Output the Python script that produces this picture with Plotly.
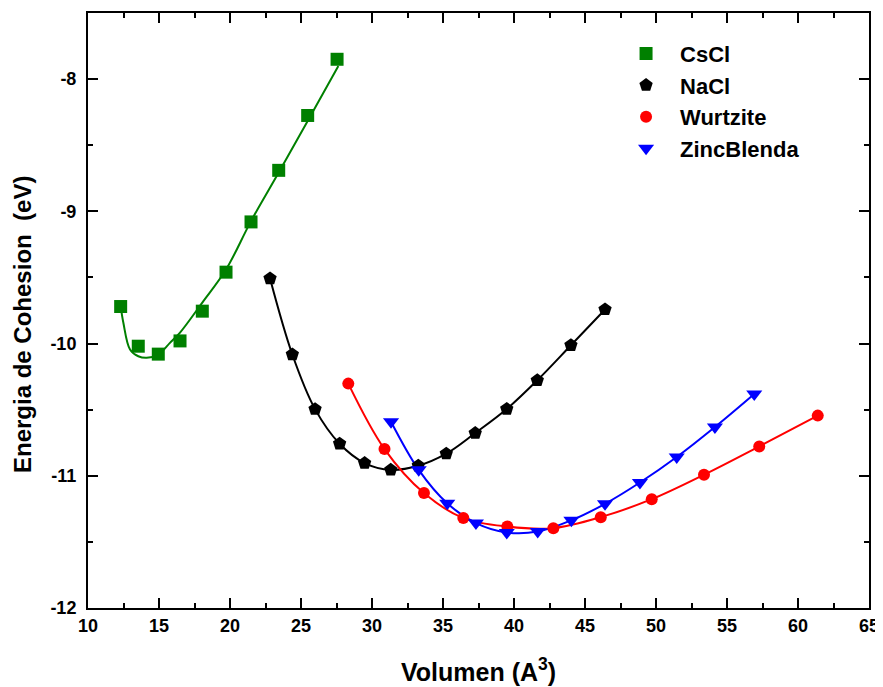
import plotly.graph_objects as go

# ---------------- data ----------------
cscl_v = [12.30, 13.54, 14.95, 16.48, 18.05, 19.72, 21.48, 23.43, 25.47, 27.54]
cscl_e = [-9.72, -10.02, -10.08, -9.98, -9.755, -9.46, -9.08, -8.69, -8.275, -7.85]
# fitted curve for CsCl
cscl_fit_v = [12.30, 12.49, 12.96, 13.54, 14.13, 14.95, 15.77, 16.48, 18.05, 19.72, 21.48, 23.43, 25.47, 27.63]
cscl_fit_e = [-9.717, -9.843, -10.045, -10.096, -10.108, -10.083, -9.995, -9.917, -9.69, -9.44, -9.074, -8.707, -8.316, -7.90]

nacl_v = [22.82, 24.39, 25.99, 27.72, 29.48, 31.32, 33.26, 35.23, 37.27, 39.49, 41.64, 44.01, 46.41]
nacl_e = [-9.508, -10.083, -10.496, -10.758, -10.904, -10.955, -10.924, -10.833, -10.677, -10.495, -10.278, -10.013, -9.742]

wurtz_v = [28.33, 30.88, 33.66, 36.43, 39.53, 42.77, 46.11, 49.70, 53.38, 57.27, 61.39]
wurtz_e = [-10.303, -10.798, -11.131, -11.32, -11.384, -11.396, -11.313, -11.177, -10.992, -10.778, -10.545]

zinc_v = [31.34, 33.29, 35.30, 37.32, 39.49, 41.67, 44.04, 46.41, 48.87, 51.46, 54.15, 56.92]
zinc_e = [-10.591, -10.955, -11.208, -11.358, -11.429, -11.422, -11.337, -11.212, -11.051, -10.858, -10.631, -10.381]

x_tickvals = [10, 15, 20, 25, 30, 35, 40, 45, 50, 55, 60, 65]
x_ticktext = ["10", "15", "20", "25", "30", "35", "40", "45", "50", "55", "60", "65"]
y_tickvals = [-12, -11, -10, -9, -8]
y_ticktext = ["-12", "-11", "-10", "-9", "-8"]

series_names = ["CsCl", "NaCl", "Wurtzite", "ZincBlenda"]
x_title = "<b>Volumen (A<sup>3</sup>)</b>"
y_title = "<b>Energia de Cohesion  (eV)</b>"

# ---------------- styles ----------------
GREEN = "#008000"
BLACK = "#000000"
RED = "#ff0000"
BLUE = "#0000ff"
FONT = "Liberation Sans, Arial, sans-serif"

fig = go.Figure()

# lines (not in legend)
fig.add_trace(go.Scatter(x=cscl_fit_v, y=cscl_fit_e, mode="lines", line=dict(color=GREEN, width=2, shape="spline"),
                         showlegend=False, hoverinfo="skip"))
fig.add_trace(go.Scatter(x=nacl_v, y=nacl_e, mode="lines", line=dict(color=BLACK, width=2, shape="spline"),
                         showlegend=False, hoverinfo="skip"))
fig.add_trace(go.Scatter(x=wurtz_v, y=wurtz_e, mode="lines", line=dict(color=RED, width=2, shape="spline"),
                         showlegend=False, hoverinfo="skip"))
fig.add_trace(go.Scatter(x=zinc_v, y=zinc_e, mode="lines", line=dict(color=BLUE, width=2, shape="spline"),
                         showlegend=False, hoverinfo="skip"))

# markers (in legend)
fig.add_trace(go.Scatter(x=cscl_v, y=cscl_e, mode="markers", name=series_names[0], legendgroup="a",
                         marker=dict(symbol="square", size=13, color=GREEN)))
fig.add_trace(go.Scatter(x=nacl_v, y=nacl_e, mode="markers", name=series_names[1], legendgroup="b",
                         marker=dict(symbol="pentagon", size=14, color=BLACK)))
fig.add_trace(go.Scatter(x=wurtz_v, y=wurtz_e, mode="markers", name=series_names[2], legendgroup="c",
                         marker=dict(symbol="circle", size=12, color=RED)))
fig.add_trace(go.Scatter(x=zinc_v, y=zinc_e, mode="markers", name=series_names[3], legendgroup="d",
                         marker=dict(symbol="triangle-down", size=14, color=BLUE)))

axis_common = dict(
    showline=True, linecolor="black", linewidth=2, mirror="ticks",
    ticks="inside", ticklen=10, tickwidth=2, tickcolor="black",
    showgrid=False, zeroline=False, automargin=False,
    tickfont=dict(family=FONT, size=18, color="black", weight="bold"),
)

fig.update_xaxes(range=[10, 65], tickvals=x_tickvals, ticktext=x_ticktext,
                 minor=dict(ticks="inside", ticklen=5, tickwidth=2, tickcolor="black", dtick=2.5, tick0=10),
                 **axis_common)
fig.update_yaxes(range=[-12, -7.5], tickvals=y_tickvals, ticktext=y_ticktext, ticklabelstandoff=6,
                 minor=dict(ticks="inside", ticklen=5, tickwidth=2, tickcolor="black", dtick=0.5, tick0=-12),
                 **axis_common)

# the page body has an 8px margin, so the figure is made 8px smaller and
# every page position is shifted by 8px
OFF = 8
W, H = 883 - OFF, 687 - OFF
L, R, T, B = 88 - OFF, 14, 13 - OFF, 79
PW = W - L - R
PH = H - T - B

def px_x(p):
    return (p - OFF - L) / PW

def px_y(p):
    return 1 - (p - OFF - T) / PH

fig.add_annotation(text=x_title, xref="paper", yref="paper",
                   x=px_x(479), y=px_y(670), xanchor="center", yanchor="middle",
                   showarrow=False, font=dict(family=FONT, size=25, color="black"))
fig.add_annotation(text=y_title, xref="paper", yref="paper", textangle=-90,
                   x=px_x(22), y=px_y(325), xanchor="center", yanchor="middle",
                   showarrow=False, font=dict(family=FONT, size=24, color="black"))

fig.update_layout(
    width=W, height=H,
    margin=dict(l=L, r=R, t=T, b=B),
    paper_bgcolor="white", plot_bgcolor="white",
    font=dict(family=FONT, color="black"),
    legend=dict(x=0.671, y=0.967, xanchor="left", yanchor="top", bgcolor="rgba(0,0,0,0)",
                font=dict(family=FONT, size=22, color="black", weight="bold"),
                tracegroupgap=0, itemwidth=58),
)

fig.write_html("out.html")
